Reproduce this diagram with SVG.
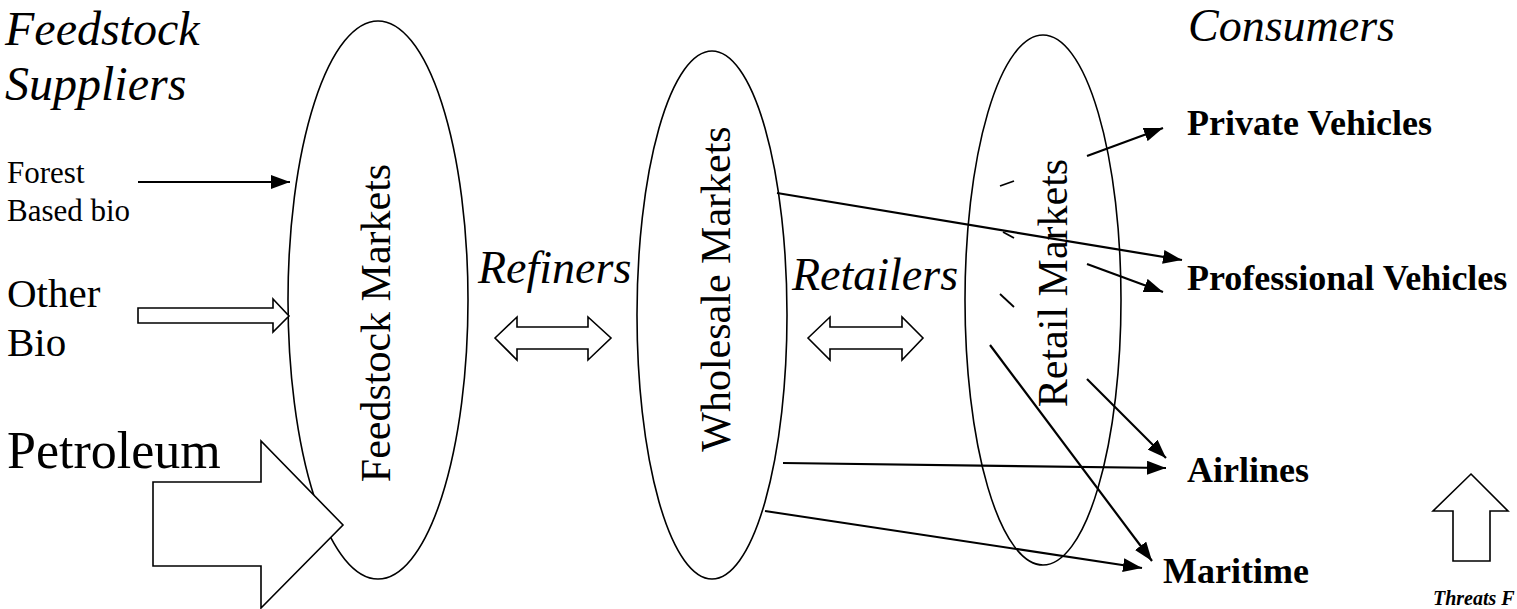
<svg xmlns="http://www.w3.org/2000/svg" width="1517" height="609" viewBox="0 0 1517 609" font-family="'Liberation Serif', 'Times New Roman', Tinos, 'DejaVu Serif', serif">
<style>
text{font-family:'Liberation Serif','Times New Roman',Tinos,'DejaVu Serif',serif;fill:#000}
.it{font-style:italic;font-size:46px}
.node{fill:none;stroke:#000;stroke-width:1.6}
.lbl{font-size:42px}
.cons{font-weight:bold;font-size:36px}
.conn line{stroke:#000;stroke-width:2.2;marker-end:url(#ah)}
.hollow{fill:#fff;stroke:#000;stroke-width:1.6;stroke-linejoin:miter}
.dash{stroke:#000;stroke-width:1.8}
</style>
<defs>
<marker id="ah" markerUnits="userSpaceOnUse" markerWidth="20" markerHeight="14" refX="19" refY="7" orient="auto">
<path d="M0,0 L19,7 L0,14 z" fill="#000"/>
</marker>
</defs>
<rect width="1517" height="609" fill="#fff"/>

<g id="titles">
<text class="it" x="5" y="45" style="font-size:48px">Feedstock</text>
<text class="it" x="5" y="100" style="font-size:48px">Suppliers</text>
<text class="it" x="1188" y="41" style="font-size:46px">Consumers</text>
</g>

<g id="node-feedstock">
<ellipse class="node" cx="378" cy="300" rx="90" ry="279"/>
<text class="lbl" transform="translate(390,323) rotate(-90)" text-anchor="middle">Feedstock Markets</text>
</g>
<g id="node-wholesale">
<ellipse class="node" cx="712" cy="315" rx="75" ry="264"/>
<text class="lbl" transform="translate(730,289) rotate(-90)" text-anchor="middle">Wholesale Markets</text>
</g>
<g id="node-retail">
<ellipse class="node" cx="1043" cy="300" rx="78" ry="265"/>
<text class="lbl" transform="translate(1067,283) rotate(-90)" text-anchor="middle">Retail Markets</text>
<line class="dash" x1="1000" y1="186" x2="1014" y2="181"/>
<line class="dash" x1="1003" y1="232" x2="1014" y2="238"/>
<line class="dash" x1="1000" y1="294" x2="1014" y2="307"/>
</g>

<g id="node-forest">
<text x="7" y="183" style="font-size:31px">Forest</text>
<text x="7" y="221" style="font-size:31px">Based bio</text>
</g>
<g id="node-otherbio">
<text x="7" y="307" style="font-size:41px">Other</text>
<text x="7" y="356" style="font-size:41px">Bio</text>
<polygon class="hollow" points="138,308 273,308 273,299 289,316 273,332 273,323 138,323"/>
</g>
<g id="node-petroleum">
<text x="7" y="468" style="font-size:52px">Petroleum</text>
<polygon class="hollow" points="153,482 261,482 261,441 343,525 261,608 261,566 153,566"/>
</g>

<g id="node-refiners">
<text class="it" x="478" y="283">Refiners</text>
<polygon class="hollow" points="495,338 517,317 517,327 588,327 588,317 611,338 588,360 588,349 517,349 517,360"/>
</g>
<g id="node-retailers">
<text class="it" x="792" y="290">Retailers</text>
<polygon class="hollow" points="808,338 830,317 830,327 902,327 902,317 923,338 902,360 902,349 830,349 830,360"/>
</g>

<g id="node-private"><text class="cons" x="1187" y="135">Private Vehicles</text></g>
<g id="node-professional"><text class="cons" x="1187" y="290">Professional Vehicles</text></g>
<g id="node-airlines"><text class="cons" x="1187" y="482">Airlines</text></g>
<g id="node-maritime"><text class="cons" x="1163" y="583">Maritime</text></g>

<g id="node-threats">
<polygon class="hollow" points="1471,474 1508,511 1490,511 1490,561 1453,561 1453,511 1433,511"/>
<text x="1433" y="605" style="font-size:20px;font-weight:bold;font-style:italic">Threats F</text>
</g>

<g id="connectors" class="conn">
<line x1="138" y1="182" x2="290" y2="182"/>
<line x1="777" y1="193" x2="1182" y2="260"/>
<line x1="1087" y1="156" x2="1163" y2="128"/>
<line x1="1087" y1="264" x2="1163" y2="292"/>
<line x1="1087" y1="379" x2="1166" y2="458"/>
<line x1="783" y1="463" x2="1166" y2="468"/>
<line x1="990" y1="345" x2="1152" y2="561"/>
<line x1="765" y1="511" x2="1142" y2="568"/>
</g>
</svg>
